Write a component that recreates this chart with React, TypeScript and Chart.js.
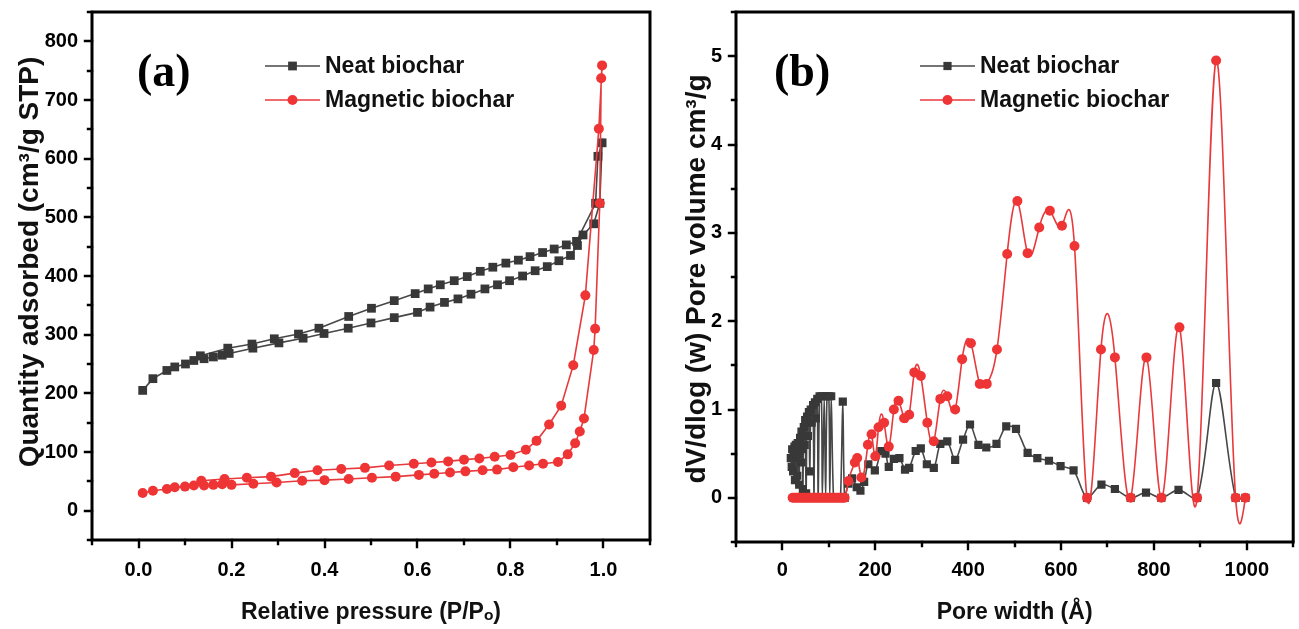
import React, { useEffect, useRef } from "react";
import { Chart, registerables } from "chart.js";

Chart.register(...registerables);

// ---------------- Panel (a): N2 isotherms ----------------
const neatPressure = [
  0.009, 0.031, 0.061, 0.078, 0.101, 0.119, 0.141, 0.161, 0.18, 0.195,
  0.246, 0.302, 0.354, 0.399, 0.451, 0.5, 0.55, 0.6, 0.627, 0.658,
  0.687, 0.715, 0.745, 0.772, 0.798, 0.826, 0.853, 0.879, 0.904, 0.929,
  0.944, 0.956, 0.979, 0.992, 0.997,
  0.988, 0.983, 0.942, 0.92, 0.894, 0.869, 0.842, 0.817, 0.79, 0.762,
  0.735, 0.707, 0.679, 0.649, 0.623, 0.595, 0.55, 0.501, 0.452, 0.388,
  0.344, 0.292, 0.244, 0.192, 0.133,
];
const neatQuantity = [
  205, 225, 239, 245, 250, 256, 259, 262, 265, 268,
  277, 286, 294, 302, 311, 320, 329, 338, 347, 355,
  361, 369, 378, 385, 392, 400, 409, 416, 426, 435,
  452, 470, 489, 524, 627,
  604, 524, 459, 453, 446, 440, 433, 427, 422, 415,
  408, 399, 392, 385, 378, 370, 358, 345, 331, 311,
  301, 293, 284, 277, 264,
];
const magneticPressure = [
  0.009, 0.031, 0.061, 0.078, 0.1, 0.119, 0.141, 0.161, 0.18, 0.2,
  0.247, 0.297, 0.352, 0.4, 0.452, 0.502, 0.553, 0.603, 0.636, 0.67,
  0.703, 0.74, 0.771, 0.806, 0.84, 0.87, 0.902, 0.923, 0.939, 0.949,
  0.958, 0.979, 0.982, 0.992, 0.995, 0.997,
  0.99, 0.961, 0.935, 0.909, 0.883, 0.856, 0.833, 0.8, 0.766, 0.733,
  0.7, 0.666, 0.63, 0.592, 0.539, 0.487, 0.436, 0.385, 0.336, 0.285,
  0.233, 0.185, 0.135,
];
const magneticQuantity = [
  30, 34, 37, 40, 41, 43, 43, 44, 45, 44,
  46, 48, 51, 52, 54, 56, 58, 61, 63, 65,
  67, 69, 70, 74, 77, 80, 83, 96, 115, 135,
  157, 274, 310, 524, 737, 759,
  651, 367, 248, 179, 147, 119, 104, 95, 92, 89,
  87, 84, 82, 80, 77, 73, 71, 69, 64, 58,
  56, 54, 51,
];

// ---------------- Panel (b): pore size distribution ----------------
const neatPoreWidth = [
  18, 20, 21, 23, 24, 26, 27, 29, 30, 32, 33, 35, 36, 38, 40, 41, 43, 44, 46, 48, 49,
  51, 53, 55, 57, 59, 61, 63, 66, 68, 70, 72, 75, 77, 80, 84, 86, 90, 93, 96, 100,
  102, 105, 110, 115, 120, 125, 130, 134,
  142, 150, 160, 168, 176, 185, 199, 213, 222, 229, 240, 252, 264, 273, 287, 298,
  311, 326, 340, 355, 372, 389, 404, 422, 439, 461, 482, 503, 528, 549, 574, 599,
  627, 656, 687, 716, 750, 783, 816, 853, 893, 934, 976, 997,
];
const neatPoreVolume = [
  0.45, 0.35, 0.55, 0.3, 0.5, 0.58, 0.2, 0.6, 0.45, 0.25, 0.62, 0.5, 0.15, 0.68, 0.4, 0.75, 0.55, 0.1, 0.8, 0.6, 0.88,
  0.05, 0.92, 0.7, 0.97, 0.3, 1.0, 0.85, 1.05, 0.0, 1.08, 0.9, 1.12, 0.0, 1.15, 1.15, 0.0, 1.15, 0.0, 1.15, 1.15,
  0.0, 1.15, 0.0, 0.0, 0.0, 0.0, 1.09, 0.0,
  0.16, 0.22, 0.12, 0.08, 0.18, 0.38, 0.31, 0.53, 0.5, 0.35, 0.44, 0.45, 0.32, 0.34, 0.53, 0.56,
  0.38, 0.34, 0.61, 0.64, 0.43, 0.66, 0.83, 0.6, 0.57, 0.61, 0.81, 0.78, 0.51, 0.45, 0.42, 0.36,
  0.31, 0.0, 0.15, 0.1, 0.0, 0.06, 0.0, 0.09, 0.0, 1.3, 0.0, 0.0,
];
const magneticPoreWidth = [
  22, 26, 30, 34, 38, 42, 46, 50, 54, 58, 62, 66, 70, 74, 78, 82, 86, 90, 94, 98,
  102, 106, 110, 114, 118, 122, 126, 130, 134,
  142, 156, 161, 170, 184, 192, 200, 207, 219, 229, 240, 250, 262, 273, 284, 298,
  312, 326, 340, 355, 372, 387, 406, 425, 440, 462, 484, 506, 528, 553, 576, 602,
  629, 656, 686, 716, 750, 784, 816, 855, 893, 934, 976, 997,
];
const magneticPoreVolume = [
  0, 0, 0, 0, 0, 0, 0, 0, 0, 0, 0, 0, 0, 0, 0, 0, 0, 0, 0, 0,
  0, 0, 0, 0, 0, 0, 0, 0, 0,
  0.19, 0.4, 0.45, 0.23, 0.6, 0.72, 0.47, 0.8, 0.85, 0.58, 1.0, 1.1, 0.9, 0.94, 1.42, 1.38,
  0.85, 0.64, 1.12, 1.15, 1.0, 1.57, 1.75, 1.29, 1.29, 1.68, 2.76, 3.36, 2.77, 3.06, 3.25, 3.08,
  2.85, 0, 1.68, 1.59, 0, 1.59, 0, 1.93, 0, 4.95, 0, 0,
];

const seriesNames = ["Neat biochar", "Magnetic biochar"];
const pressureTickLabels = ["0.0", "0.2", "0.4", "0.6", "0.8", "1.0"];
const quantityTickLabels = ["0", "100", "200", "300", "400", "500", "600", "700", "800"];
const widthTickLabels = ["0", "200", "400", "600", "800", "1000"];
const volumeTickLabels = ["0", "1", "2", "3", "4", "5"];

const NEAT_LINE = "#474747";
const NEAT_FILL = "#383838";
const MAG_LINE = "#e8393c";
const MAG_FILL = "#ee3434";
const SANS = "'Liberation Sans', Arial, Helvetica, sans-serif";
const SERIF = "'Liberation Serif', 'Times New Roman', serif";

const pairs = (xs: number[], ys: number[]) => xs.map((x, i) => ({ x, y: ys[i] }));

const labelFor = (labels: string[]) => (value: number) => {
  const hit = labels.find((l) => Math.abs(Number(l) - Number(value)) < 1e-6);
  return hit === undefined ? "" : hit;
};

// frame + major/minor ticks drawn from the chart's own scales
const frameTicksPlugin = {
  id: "frameTicks",
  afterDraw(chart: any, _args: any, opts: any) {
    const { ctx, chartArea: ca } = chart;
    const xs = chart.scales.x;
    const ys = chart.scales.y;
    ctx.save();
    ctx.strokeStyle = "#000";
    ctx.lineCap = "square";
    ctx.lineWidth = 2.4;
    ctx.beginPath();
    const eps = 1e-9;
    for (let v = xs.min; v <= xs.max + eps; v += opts.xMinor) {
      const major = Math.abs(v / opts.xMajor - Math.round(v / opts.xMajor)) < 1e-6;
      const len = major ? 7 : 4;
      const px = Math.round(xs.getPixelForValue(v));
      ctx.moveTo(px, ca.bottom);
      ctx.lineTo(px, ca.bottom + len);
    }
    for (let v = ys.min; v <= ys.max + eps; v += opts.yMinor) {
      const major = Math.abs(v / opts.yMajor - Math.round(v / opts.yMajor)) < 1e-6;
      const len = major ? 7 : 4;
      const py = Math.round(ys.getPixelForValue(v));
      ctx.moveTo(ca.left, py);
      ctx.lineTo(ca.left - len, py);
    }
    ctx.stroke();
    ctx.lineWidth = 3;
    ctx.lineCap = "butt";
    ctx.strokeRect(ca.left, ca.top, ca.right - ca.left, ca.bottom - ca.top);
    ctx.restore();
  },
};

const insetLegendPlugin = {
  id: "insetLegend",
  afterDraw(chart: any, _args: any, opts: any) {
    const { ctx, chartArea: ca } = chart;
    ctx.save();
    chart.data.datasets.forEach((ds: any, i: number) => {
      const y = opts.rows[i];
      const x0 = ca.left + opts.x;
      ctx.strokeStyle = ds.borderColor;
      ctx.lineWidth = 1.6;
      ctx.beginPath();
      ctx.moveTo(x0, y);
      ctx.lineTo(x0 + opts.lineLen, y);
      ctx.stroke();
      const mx = x0 + opts.lineLen / 2;
      ctx.fillStyle = ds.pointBackgroundColor;
      if (ds.pointStyle === "rect") {
        const s = ds.pointRadius * Math.SQRT1_2;
        ctx.fillRect(mx - s, y - s, 2 * s, 2 * s);
      } else {
        ctx.beginPath();
        ctx.arc(mx, y, ds.pointRadius, 0, Math.PI * 2);
        ctx.fill();
      }
      ctx.fillStyle = "#111";
      ctx.font = `bold ${opts.fontSize}px ${SANS}`;
      ctx.textBaseline = "middle";
      ctx.textAlign = "left";
      ctx.fillText(ds.label, x0 + opts.lineLen + opts.gap, y + 1);
    });
    ctx.restore();
  },
};

const panelTextPlugin = {
  id: "panelText",
  afterDraw(chart: any, _args: any, opts: any) {
    const { ctx, chartArea: ca } = chart;
    ctx.save();
    ctx.fillStyle = "#000";
    ctx.font = `bold ${opts.size}px ${SERIF}`;
    ctx.textBaseline = "middle";
    ctx.textAlign = "left";
    ctx.fillText(opts.text, ca.left + opts.x, opts.y);
    // rotated y-axis title
    ctx.fillStyle = "#111";
    ctx.font = `bold ${opts.yTitleSize}px ${SANS}`;
    ctx.textAlign = "center";
    ctx.translate(opts.yTitleX, opts.yTitleY);
    ctx.rotate(-Math.PI / 2);
    ctx.fillText(opts.yTitle, 0, 0);
    ctx.restore();
  },
};

function splinePath(ctx: CanvasRenderingContext2D, pts: { x: number; y: number }[]) {
  const n = pts.length;
  if (n < 2) return;
  const h: number[] = [];
  for (let i = 0; i < n - 1; i++) h.push(pts[i + 1].x - pts[i].x);
  const M = new Array(n).fill(0);
  if (n > 2) {
    const a: number[] = [], b: number[] = [], c: number[] = [], d: number[] = [];
    for (let i = 1; i < n - 1; i++) {
      a.push(h[i - 1]);
      b.push(2 * (h[i - 1] + h[i]));
      c.push(h[i]);
      d.push(6 * ((pts[i + 1].y - pts[i].y) / h[i] - (pts[i].y - pts[i - 1].y) / h[i - 1]));
    }
    const m = b.length;
    for (let r = 1; r < m; r++) {
      const w = a[r] / b[r - 1];
      b[r] -= w * c[r - 1];
      d[r] -= w * d[r - 1];
    }
    const sol = new Array(m).fill(0);
    sol[m - 1] = d[m - 1] / b[m - 1];
    for (let r = m - 2; r >= 0; r--) sol[r] = (d[r] - c[r] * sol[r + 1]) / b[r];
    for (let r = 0; r < m; r++) M[r + 1] = sol[r];
  }
  ctx.moveTo(pts[0].x, pts[0].y);
  for (let i = 0; i < n - 1; i++) {
    const hi = h[i];
    const p0 = pts[i];
    const p1 = pts[i + 1];
    const s = (p1.y - p0.y) / hi;
    const m0 = s - (hi * (2 * M[i] + M[i + 1])) / 6;
    const m1 = s + (hi * (M[i] + 2 * M[i + 1])) / 6;
    ctx.bezierCurveTo(p0.x + hi / 3, p0.y + (m0 * hi) / 3, p1.x - hi / 3, p1.y - (m1 * hi) / 3, p1.x, p1.y);
  }
}

// natural-spline connecting line (Origin "spline" style), drawn through the chart's scales
const splineLinePlugin = {
  id: "splineLine",
  beforeDatasetDraw(chart: any, args: any, opts: any) {
    if (!opts || !opts.indices || opts.indices.indexOf(args.index) < 0) return;
    const ds = chart.data.datasets[args.index];
    const xs = chart.scales.x;
    const ys = chart.scales.y;
    const pts = ds.data.map((p: any) => ({ x: xs.getPixelForValue(p.x), y: ys.getPixelForValue(p.y) }));
    const { ctx, chartArea: ca } = chart;
    ctx.save();
    ctx.beginPath();
    ctx.rect(ca.left, ca.top, ca.right - ca.left, ca.bottom - ca.top);
    ctx.clip();
    ctx.beginPath();
    splinePath(ctx, pts);
    ctx.strokeStyle = ds.borderColor;
    ctx.lineWidth = ds.borderWidth;
    ctx.lineJoin = "round";
    ctx.stroke();
    ctx.restore();
  },
};

function zeroPadding(s: any) {
  s.paddingTop = 0;
  s.paddingBottom = 0;
  s.paddingLeft = 0;
  s.paddingRight = 0;
}

function makeConfig(p: any) {
  const tickFont = { family: SANS, size: 20, weight: "bold" as const };
  const titleFont = { family: SANS, size: 23, weight: "bold" as const };
  return {
    type: "line" as const,
    data: { datasets: p.datasets },
    plugins: [frameTicksPlugin, insetLegendPlugin, panelTextPlugin, splineLinePlugin],
    options: {
      responsive: false,
      animation: false as const,
      devicePixelRatio: 1,
      layout: { padding: { left: 0, top: 12, right: p.padRight, bottom: 0 } },
      plugins: {
        legend: { display: false },
        tooltip: { enabled: false },
        frameTicks: { xMajor: p.x.step, xMinor: p.x.minor, yMajor: p.y.step, yMinor: p.y.minor },
        insetLegend: { x: p.legendX, rows: [66, 100], lineLen: 55, gap: 5, fontSize: 23 },
        panelText: {
          text: p.label,
          x: p.labelX,
          y: 74,
          size: 46,
          yTitle: p.y.title,
          yTitleX: p.yTitleX,
          yTitleY: p.yTitleY,
          yTitleSize: 28,
        },
        splineLine: { indices: p.splineIndices },
      },
      scales: {
        x: {
          type: "linear" as const,
          min: p.x.min,
          max: p.x.max,
          afterBuildTicks: (s: any) => {
            s.ticks = p.x.labels.map((l: string) => ({ value: Number(l) }));
          },
          afterFit: (s: any) => {
            s.height = p.xAxisHeight;
            zeroPadding(s);
          },
          grid: { display: false, drawTicks: false },
          border: { display: false },
          ticks: {
            autoSkip: false,
            maxRotation: 0,
            minRotation: 0,
            padding: p.xTickPad,
            color: "#000",
            font: tickFont,
            callback: labelFor(p.x.labels),
          },
          title: {
            display: true,
            text: p.x.title,
            color: "#111",
            font: titleFont,
            padding: { top: 0, bottom: 3 },
          },
        },
        y: {
          type: "linear" as const,
          min: p.y.min,
          max: p.y.max,
          afterBuildTicks: (s: any) => {
            s.ticks = p.y.labels.map((l: string) => ({ value: Number(l) }));
          },
          afterFit: (s: any) => {
            s.width = p.yAxisWidth;
            zeroPadding(s);
          },
          grid: { display: false, drawTicks: false },
          border: { display: false },
          ticks: {
            autoSkip: false,
            padding: 14,
            color: "#000",
            font: tickFont,
            callback: labelFor(p.y.labels),
          },
          title: { display: false },
        },
      },
    },
  };
}

export default function App() {
  const leftRef = useRef<HTMLCanvasElement | null>(null);
  const rightRef = useRef<HTMLCanvasElement | null>(null);

  useEffect(() => {
    if (!leftRef.current || !rightRef.current) return;

    const neatStyle = {
      borderColor: NEAT_LINE,
      pointBackgroundColor: NEAT_FILL,
      pointBorderColor: NEAT_FILL,
      pointStyle: "rect",
      borderWidth: 1.6,
      pointBorderWidth: 0,
    };
    const magStyle = {
      borderColor: MAG_LINE,
      pointBackgroundColor: MAG_FILL,
      pointBorderColor: MAG_FILL,
      pointStyle: "circle",
      borderWidth: 1.6,
      pointBorderWidth: 0,
    };

    const left = new Chart(
      leftRef.current,
      makeConfig({
        datasets: [
          { ...neatStyle, label: seriesNames[0], data: pairs(neatPressure, neatQuantity), pointRadius: 6.2, tension: 0, order: 2 },
          { ...magStyle, label: seriesNames[1], data: pairs(magneticPressure, magneticQuantity), pointRadius: 5, tension: 0, order: 1 },
        ],
        padRight: 15,
        xAxisHeight: 89,
        yAxisWidth: 92,
        yTitleX: 30,
        yTitleY: 262,
        xTickPad: 18,
        legendX: 173,
        label: "(a)",
        labelX: 45,
        splineIndices: [],
        x: { min: -0.1, max: 1.1, step: 0.2, minor: 0.1, labels: pressureTickLabels, title: "Relative pressure (P/P\u2092)" },
        y: { min: -50, max: 850, step: 100, minor: 50, labels: quantityTickLabels, title: "Quantity adsorbed (cm\u00b3/g STP)" },
      }) as any
    );

    const right = new Chart(
      rightRef.current,
      makeConfig({
        datasets: [
          { ...neatStyle, label: seriesNames[0], data: pairs(neatPoreWidth, neatPoreVolume), pointRadius: 5.8, tension: 0.3, order: 2 },
          { ...magStyle, label: seriesNames[1], data: pairs(magneticPoreWidth, magneticPoreVolume), pointRadius: 5, showLine: false, order: 1 },
        ],
        padRight: 2,
        xAxisHeight: 87,
        yAxisWidth: 71,
        yTitleX: 32,
        yTitleY: 279,
        xTickPad: 16,
        legendX: 184,
        label: "(b)",
        labelX: 38,
        splineIndices: [1],
        x: { min: -100, max: 1100, step: 200, minor: 100, labels: widthTickLabels, title: "Pore width (\u00c5)" },
        y: { min: -0.5, max: 5.5, step: 1, minor: 0.5, labels: volumeTickLabels, title: "dV/dlog (w) Pore volume cm\u00b3/g" },
      }) as any
    );

    return () => {
      left.destroy();
      right.destroy();
    };
  }, []);

  return (
    <div style={{ position: "absolute", left: 0, top: 0, width: 1299, height: 629, background: "#fff", overflow: "hidden" }}>
      <canvas ref={leftRef} width={665} height={629} style={{ position: "absolute", left: 0, top: 0, width: 665, height: 629 }} />
      <canvas ref={rightRef} width={634} height={629} style={{ position: "absolute", left: 665, top: 0, width: 634, height: 629 }} />
    </div>
  );
}
